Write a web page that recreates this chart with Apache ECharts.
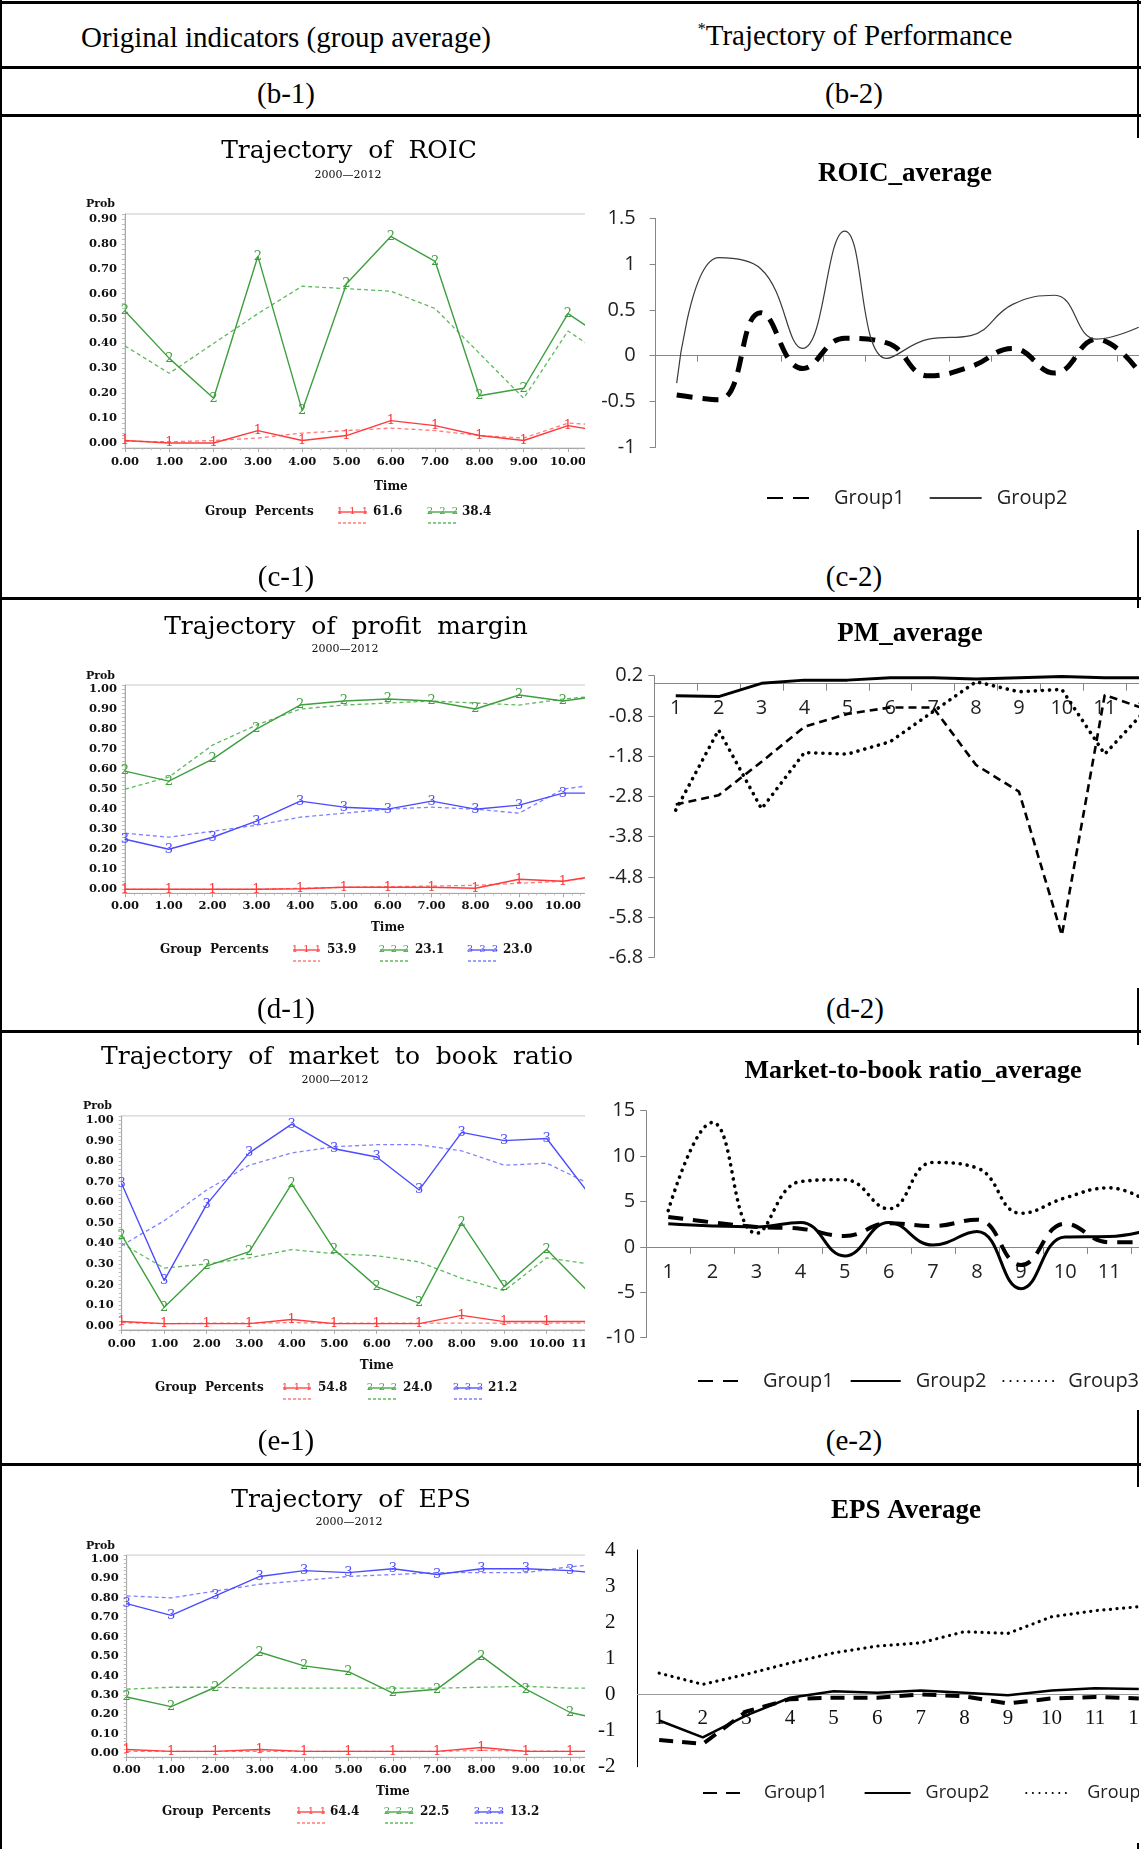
<!DOCTYPE html>
<html><head><meta charset="utf-8">
<script src="https://cdn.jsdelivr.net/npm/echarts@6/dist/echarts.min.js"></script>
<style>
html,body{margin:0;padding:0;background:#fff;}
body{width:1141px;height:1849px;position:relative;overflow:hidden;font-family:"Liberation Serif","Times New Roman",serif;}
.hl{position:absolute;left:0;width:1141px;height:3px;background:#000;z-index:10;}
.vl{position:absolute;width:2px;background:#000;top:0;height:1849px;}
.lbl{position:absolute;font-size:29px;line-height:32px;transform:translate(-50%,-50%);white-space:nowrap;color:#000;z-index:11;}
.box{position:absolute;overflow:hidden;}
.rbox{background:#fff;z-index:5;}
.chart{position:absolute;left:0;top:0;}
</style></head>
<body>
<div class="vl" style="left:1137px;z-index:1"></div>
<div class="vl" style="left:0;z-index:10"></div>
<div class="hl" style="top:1px"></div>
<div class="hl" style="top:66px"></div>
<div class="hl" style="top:114px"></div>
<div class="hl" style="top:597px"></div>
<div class="hl" style="top:1030px"></div>
<div class="hl" style="top:1463px"></div>

<div class="lbl" style="left:286px;top:37px">Original indicators (group average)</div>
<div class="lbl" style="left:855px;top:37px"><span style="font-size:16px;position:relative;top:-11px">*</span>Trajectory of Performance</div>
<div class="lbl" style="left:286px;top:93px">(b-1)</div>
<div class="lbl" style="left:854px;top:93px">(b-2)</div>
<div class="lbl" style="left:286px;top:576px">(c-1)</div>
<div class="lbl" style="left:854px;top:576px">(c-2)</div>
<div class="lbl" style="left:286px;top:1008px">(d-1)</div>
<div class="lbl" style="left:855px;top:1008px">(d-2)</div>
<div class="lbl" style="left:286px;top:1440px">(e-1)</div>
<div class="lbl" style="left:854px;top:1440px">(e-2)</div>

<div class="box" style="left:0;top:118px;width:585px;height:470px"><div id="L1" class="chart" style="width:700px;height:470px"></div></div>
<div class="box" style="left:0;top:602px;width:585px;height:425px"><div id="L2" class="chart" style="width:700px;height:425px"></div></div>
<div class="box" style="left:0;top:1034px;width:585px;height:427px"><div id="L3" class="chart" style="width:700px;height:427px"></div></div>
<div class="box" style="left:0;top:1467px;width:585px;height:382px"><div id="L4" class="chart" style="width:700px;height:382px"></div></div>

<div class="box rbox" style="left:588px;top:138px;width:551px;height:392px"><div id="R1" class="chart" style="width:600px;height:392px"></div></div>
<div class="box rbox" style="left:588px;top:608px;width:551px;height:380px"><div id="R2" class="chart" style="width:600px;height:380px"></div></div>
<div class="box rbox" style="left:588px;top:1045px;width:551px;height:365px"><div id="R3" class="chart" style="width:600px;height:365px"></div></div>
<div class="box rbox" style="left:588px;top:1487px;width:551px;height:356px"><div id="R4" class="chart" style="width:600px;height:356px"></div></div>

<script>
// ================= DATA =================
// SAS group-based trajectory plots, time 0..11 (only up to ~10.5 visible)
const sasTimes = [0,1,2,3,4,5,6,7,8,9,10,11];

const roicG1     = [0.01,0.00,0.00,0.05,0.01,0.03,0.09,0.07,0.03,0.01,0.07,0.04];
const roicG1Pred = [0.007,0.005,0.01,0.02,0.04,0.05,0.06,0.05,0.03,0.02,0.08,0.07];
const roicG2     = [0.53,0.34,0.18,0.75,0.13,0.64,0.83,0.73,0.19,0.22,0.52,0.40];
const roicG2Pred = [0.39,0.28,0.40,0.52,0.63,0.62,0.61,0.54,0.36,0.18,0.45,0.33];
const roicPct    = ['61.6','38.4'];

const pmG1     = [0,0,0,0,0.003,0.01,0.01,0.01,0.005,0.05,0.04,0.075];
const pmG1Pred = [0,0,0,0,0.005,0.01,0.013,0.016,0.02,0.03,0.04,0.07];
const pmG2     = [0.59,0.54,0.65,0.80,0.92,0.94,0.95,0.94,0.90,0.97,0.94,0.97];
const pmG2Pred = [0.50,0.56,0.72,0.82,0.90,0.92,0.93,0.94,0.93,0.92,0.95,0.97];
const pmG3     = [0.25,0.20,0.26,0.34,0.44,0.41,0.40,0.44,0.40,0.42,0.48,0.48];
const pmG3Pred = [0.28,0.26,0.29,0.32,0.36,0.38,0.40,0.41,0.40,0.38,0.50,0.53];
const pmPct    = ['53.9','23.1','23.0'];

const mtbG1     = [0.02,0.01,0.01,0.01,0.03,0.01,0.01,0.01,0.05,0.02,0.02,0.02];
const mtbG1Pred = [0.015,0.01,0.012,0.012,0.015,0.012,0.012,0.012,0.012,0.012,0.012,0.012];
const mtbG2     = [0.44,0.09,0.29,0.36,0.69,0.37,0.19,0.11,0.50,0.19,0.37,0.16];
const mtbG2Pred = [0.40,0.28,0.30,0.33,0.37,0.35,0.34,0.31,0.23,0.17,0.33,0.30];
const mtbG3     = [0.69,0.22,0.59,0.84,0.98,0.86,0.82,0.66,0.94,0.90,0.91,0.64];
const mtbG3Pred = [0.39,0.51,0.66,0.78,0.84,0.87,0.88,0.88,0.85,0.78,0.79,0.69];
const mtbPct    = ['54.8','24.0','21.2'];

const epsG1     = [0.02,0.01,0.01,0.02,0.01,0.01,0.01,0.01,0.03,0.01,0.01,0.01];
const epsG1Pred = [0.01,0.01,0.01,0.01,0.01,0.01,0.01,0.01,0.015,0.012,0.01,0.01];
const epsG2     = [0.29,0.24,0.34,0.52,0.45,0.42,0.31,0.33,0.50,0.33,0.21,0.16];
const epsG2Pred = [0.33,0.34,0.34,0.335,0.335,0.335,0.335,0.335,0.34,0.345,0.335,0.335];
const epsG3     = [0.77,0.71,0.81,0.91,0.94,0.93,0.95,0.92,0.95,0.95,0.94,0.92];
const epsG3Pred = [0.81,0.80,0.835,0.87,0.89,0.91,0.92,0.93,0.93,0.93,0.96,0.98];
const epsPct    = ['64.4','22.5','13.2'];

// Excel average charts, periods 1..12
const periods = ['1','2','3','4','5','6','7','8','9','10','11','12'];

const roicAvgG1 = [-0.43,-0.48,0.47,-0.14,0.19,0.14,-0.22,-0.12,0.08,-0.19,0.18,-0.17];
const roicAvgG2 = [-0.30,1.07,0.95,0.08,1.36,-0.03,0.18,0.22,0.56,0.66,0.18,0.31];

const pmAvgG1 = [-3.0,-2.77,-1.94,-1.07,-0.75,-0.59,-0.59,-2.02,-2.68,-6.25,-0.28,-0.65];
const pmAvgG2 = [-0.30,-0.32,0.01,0.09,0.09,0.15,0.15,0.12,0.15,0.18,0.15,0.15];
const pmAvgG3 = [-3.14,-1.15,-3.11,-1.71,-1.75,-1.44,-0.69,0.05,-0.20,-0.14,-1.75,-0.60];

const mtbAvgG1 = [3.3,2.7,2.2,2.0,1.2,2.6,2.3,3.0,-2.0,2.55,0.5,0.55];
const mtbAvgG2 = [2.55,2.3,2.2,2.7,-1.0,2.7,0.2,1.7,-4.6,1.1,1.15,2.0];
const mtbAvgG3 = [4.0,13.7,1.5,7.2,7.4,4.2,9.3,8.7,3.7,5.4,6.5,4.6];

const epsAvgG1 = [-1.26,-1.37,-0.47,-0.13,-0.09,-0.09,0.0,-0.05,-0.25,-0.11,-0.07,-0.11];
const epsAvgG2 = [-0.72,-1.19,-0.58,-0.09,0.09,0.05,0.11,0.05,-0.02,0.11,0.17,0.15];
const epsAvgG3 = [0.59,0.28,0.56,0.87,1.15,1.34,1.43,1.74,1.69,2.15,2.32,2.43];

// ================= STYLES =================
const SERIF_SAS = '"DejaVu Serif"';
const C = {
  red:'#ff3a3a', redD:'#ff7b7b',
  green:'#3f9f3f', greenD:'#5fb95f',
  blue:'#4b4bff', blueD:'#8080ff'
};

function T(x, y, text, font, align, fill) {
  return {type:'text', x:x, y:y, silent:true, z:50,
    style:{text:text, font:font, fill:fill||'#111',
      textAlign:align||'center', textVerticalAlign:'middle', align:align||'center', verticalAlign:'middle'}};
}

function sasChart(id, L, groups, pcts) {
  const el = document.getElementById(id);
  const chart = echarts.init(el, null, {width:el.offsetWidth, height:el.offsetHeight});
  const gfx = [];
  gfx.push(T(L.titleX, L.titleY, L.title, '25px ' + SERIF_SAS, 'center', '#000'));
  gfx.push(T(L.subX, L.subY, '2000\u20142012', '11px ' + SERIF_SAS));
  gfx.push(T(L.probX, L.probY, 'Prob', 'bold 11px ' + SERIF_SAS, 'right'));
  gfx.push(T(L.groupX, L.legendY, 'Group  Percents', 'bold 12px ' + SERIF_SAS, 'left'));
  groups.forEach(function(g, i) {
    const it = L.items[i];
    gfx.push({type:'line', silent:true, shape:{x1:it[0], y1:L.legendY, x2:it[1], y2:L.legendY},
      style:{stroke:g.color, lineWidth:1.3}});
    [it[0] + 2, (it[0] + it[1]) / 2, it[1] - 2].forEach(function(mx) {
      gfx.push(T(mx, L.legendY - 1, g.mark, '10px ' + SERIF_SAS, 'center', g.color));
    });
    gfx.push(T(it[2], L.legendY, pcts[i], 'bold 12px ' + SERIF_SAS, 'left'));
    gfx.push({type:'line', silent:true, shape:{x1:it[0], y1:L.legendY + 11, x2:it[1], y2:L.legendY + 11},
      style:{stroke:g.dcolor, lineWidth:1.3, lineDash:[3,2]}});
  });

  const series = [];
  groups.forEach(function(g) {
    series.push({type:'line', name:'pred' + g.mark,
      data: sasTimes.map(function(t, i){ return [t, g.pred[i]]; }),
      symbol:'none', lineStyle:{color:g.dcolor, width:1.3, type:[4,3]}, z:2, silent:true});
  });
  groups.forEach(function(g) {
    series.push({type:'line', name:'group' + g.mark,
      data: sasTimes.map(function(t, i){ return [t, g.data[i]]; }),
      symbol:'circle', symbolSize:1, showSymbol:true, showAllSymbol:true,
      itemStyle:{color:g.color}, lineStyle:{color:g.color, width:1.4}, z:3, silent:true,
      label:{show:true, position:'inside', formatter:g.mark, color:g.color,
        fontSize:13, fontFamily:SERIF_SAS}});
  });

  const tenth = function(v) {
    const r = Math.round(v * 10);
    return (Math.abs(v * 10 - r) < 1e-6 && r >= 0) ? (r / 10).toFixed(2) : '';
  };

  chart.setOption({
    animation:false,
    grid:{left:L.gridLeft, top:L.gridTop, width:L.unit * 12, height:L.gridH,
      show:true, borderColor:'#c8c8c8', borderWidth:1, outerBoundsMode:'none'},
    xAxis:{type:'value', min:0, max:12, interval:1,
      name:'Time', nameLocation:'middle', nameGap:L.nameGap,
      nameTextStyle:{fontFamily:SERIF_SAS, fontWeight:'bold', fontSize:12, color:'#111'},
      axisLine:{onZero:false, lineStyle:{color:'#a8a8a8'}},
      axisTick:{show:true, length:4, lineStyle:{color:'#a8a8a8'}},
      minorTick:{show:true, splitNumber:5, length:2, lineStyle:{color:'#bbbbbb'}},
      splitLine:{show:false},
      axisLabel:{formatter:function(v){ return v.toFixed(2); }, fontFamily:SERIF_SAS,
        fontWeight:'bold', fontSize:11.5, color:'#111', margin:L.xMargin}},
    yAxis:{type:'value', min:-0.02, max:L.ymax, interval:0.02,
      axisLine:{show:true, onZero:false, lineStyle:{color:'#a8a8a8'}},
      axisTick:{show:true, length:3, lineStyle:{color:'#bbbbbb'}},
      splitLine:{show:false},
      axisLabel:{formatter:tenth, fontFamily:SERIF_SAS, fontWeight:'bold', fontSize:11.5,
        color:'#111', margin:8}},
    graphic:{elements:gfx},
    series:series
  });
}

sasChart('L1', {
  title:'Trajectory  of  ROIC', titleX:349, titleY:33, subX:348, subY:57, probX:115, probY:86,
  gridLeft:125, unit:44.3, gridTop:96, gridH:234, ymax:0.92, xMargin:8, nameGap:33,
  legendY:394, groupX:205, items:[[338,367,373],[428,457,462]]
}, [
  {data:roicG1, pred:roicG1Pred, color:C.red, dcolor:C.redD, mark:'1'},
  {data:roicG2, pred:roicG2Pred, color:C.green, dcolor:C.greenD, mark:'2'}
], roicPct);

sasChart('L2', {
  title:'Trajectory  of  profit  margin', titleX:346, titleY:25, subX:345, subY:47, probX:115, probY:74,
  gridLeft:125, unit:43.8, gridTop:83, gridH:208.3, ymax:1.02, xMargin:7, nameGap:29,
  legendY:348, groupX:160, items:[[293,320,327],[380,408,415],[468,497,503]]
}, [
  {data:pmG1, pred:pmG1Pred, color:C.red, dcolor:C.redD, mark:'1'},
  {data:pmG2, pred:pmG2Pred, color:C.green, dcolor:C.greenD, mark:'2'},
  {data:pmG3, pred:pmG3Pred, color:C.blue, dcolor:C.blueD, mark:'3'}
], pmPct);

sasChart('L3', {
  title:'Trajectory  of  market  to  book  ratio', titleX:337, titleY:23, subX:335, subY:46, probX:112, probY:72,
  gridLeft:121.7, unit:42.5, gridTop:81.9, gridH:213.9, ymax:1.02, xMargin:8, nameGap:30,
  legendY:354, groupX:155, items:[[283,311,318],[368,396,403],[454,482,488]]
}, [
  {data:mtbG1, pred:mtbG1Pred, color:C.red, dcolor:C.redD, mark:'1'},
  {data:mtbG2, pred:mtbG2Pred, color:C.green, dcolor:C.greenD, mark:'2'},
  {data:mtbG3, pred:mtbG3Pred, color:C.blue, dcolor:C.blueD, mark:'3'}
], mtbPct);

sasChart('L4', {
  title:'Trajectory  of  EPS', titleX:351, titleY:33, subX:349, subY:55, probX:115, probY:79,
  gridLeft:126.7, unit:44.35, gridTop:88.1, gridH:202.1, ymax:1.02, xMargin:7, nameGap:28.5,
  legendY:345, groupX:162, items:[[297,325,330],[385,413,420],[475,503,510]]
}, [
  {data:epsG1, pred:epsG1Pred, color:C.red, dcolor:C.redD, mark:'1'},
  {data:epsG2, pred:epsG2Pred, color:C.green, dcolor:C.greenD, mark:'2'},
  {data:epsG3, pred:epsG3Pred, color:C.blue, dcolor:C.blueD, mark:'3'}
], epsPct);

// ================= EXCEL-STYLE AVERAGE CHARTS =================
const SANS = '"Open Sans"';
const SERIF = '"Liberation Serif"';

function initR(id) {
  const el = document.getElementById(id);
  return echarts.init(el, null, {width:el.offsetWidth, height:el.offsetHeight});
}
function titleG(x, y, text, size) {
  return {elements:[T(x, y, text, 'bold ' + size + 'px ' + SERIF, 'center', '#000')]};
}
const gray = '#868686';
function legendCfg(left, top, w, gap, size) {
  return {left:left, top:top, itemWidth:w, itemHeight:14, itemGap:gap,
    itemStyle:{opacity:0}, selectedMode:false,
    textStyle:{fontFamily:SANS, fontSize:size, color:'#222', padding:[0,0,0,10]}};
}
// category x axis drawn at value 0 via offset (zeroOffset = distance from grid bottom up to 0)
function catAxis(zeroOffset, labelOpts, tickLen, lineColor) {
  return {type:'category', data:periods, boundaryGap:true, offset:-zeroOffset,
    axisLine:{onZero:false, lineStyle:{color:lineColor}},
    axisTick:{show:tickLen > 0, length:tickLen, lineStyle:{color:lineColor}},
    axisLabel:labelOpts, splitLine:{show:false}};
}

// ROIC average: y -1..1.5, plot 229px tall
initR('R1').setOption({
  animation:false,
  graphic:titleG(317, 36, 'ROIC_average', 27),
  grid:{left:67.7, top:80.3, width:504, height:229, outerBoundsMode:'none'},
  legend:legendCfg(173, 345, 52, 24, 20),
  xAxis:catAxis(229 * 1 / 2.5, {show:false}, 6, gray),
  yAxis:{type:'value', min:-1, max:1.5, interval:0.5,
    axisLine:{show:true, lineStyle:{color:gray}}, axisTick:{show:true, length:6, lineStyle:{color:gray}},
    splitLine:{show:false},
    axisLabel:{fontFamily:SANS, fontSize:20, color:'#222', margin:20}},
  series:[
    {type:'line', name:'Group1', data:roicAvgG1, smooth:0.45, symbol:'none',
      lineStyle:{color:'#000', width:5, type:[16,10]}, itemStyle:{color:'#000'}},
    {type:'line', name:'Group2', data:roicAvgG2, smooth:0.45, symbol:'none',
      lineStyle:{color:'#3a3a3a', width:1.2}, itemStyle:{color:'#3a3a3a'}}
  ]
});

// PM average: y -6.8..0.2, plot 281.6px tall
initR('R2').setOption({
  animation:false,
  graphic:titleG(322, 26, 'PM_average', 27),
  grid:{left:66.3, top:67.7, width:514.8, height:281.6, outerBoundsMode:'none'},
  xAxis:catAxis(281.6 * 6.8 / 7,
    {interval:0, fontFamily:SANS, fontSize:20, color:'#222', margin:15}, 7, gray),
  yAxis:{type:'value', min:-6.8, max:0.2, interval:1,
    axisLine:{show:true, lineStyle:{color:gray}}, axisTick:{show:true, length:6, lineStyle:{color:gray}},
    splitLine:{show:false},
    axisLabel:{formatter:function(v){ return v.toFixed(1); }, fontFamily:SANS, fontSize:20, color:'#222', margin:11}},
  series:[
    {type:'line', name:'Group1', data:pmAvgG1, symbol:'none',
      lineStyle:{color:'#000', width:2.6, type:[8,5]}},
    {type:'line', name:'Group2', data:pmAvgG2, symbol:'none',
      lineStyle:{color:'#000', width:3}},
    {type:'line', name:'Group3', data:pmAvgG3, symbol:'none',
      lineStyle:{color:'#000', width:3.6, type:[0.1,7], cap:'round'}}
  ]
});

// Market-to-book average: y -10..15, plot 227px tall
initR('R3').setOption({
  animation:false,
  graphic:titleG(325, 26, 'Market-to-book ratio_average', 26),
  grid:{left:58.2, top:65.7, width:529.2, height:227, outerBoundsMode:'none'},
  legend:legendCfg(104, 321, 50, 16, 20),
  xAxis:catAxis(227 * 10 / 25,
    {interval:0, fontFamily:SANS, fontSize:20, color:'#222', margin:15}, 7, gray),
  yAxis:{type:'value', min:-10, max:15, interval:5,
    axisLine:{show:true, lineStyle:{color:gray}}, axisTick:{show:true, length:6, lineStyle:{color:gray}},
    splitLine:{show:false},
    axisLabel:{fontFamily:SANS, fontSize:20, color:'#222', margin:11}},
  series:[
    {type:'line', name:'Group1', data:mtbAvgG1, smooth:0.45, symbol:'none',
      lineStyle:{color:'#000', width:4, type:[15,10]}, itemStyle:{color:'#000'}},
    {type:'line', name:'Group2', data:mtbAvgG2, smooth:0.45, symbol:'none',
      lineStyle:{color:'#000', width:3}, itemStyle:{color:'#000'}},
    {type:'line', name:'Group3', data:mtbAvgG3, smooth:0.45, symbol:'none',
      lineStyle:{color:'#000', width:3.6, type:[0.1,7], cap:'round'}, itemStyle:{color:'#000'}}
  ]
});

// EPS average: y -2..4, plot 216.7px tall
initR('R4').setOption({
  animation:false,
  graphic:titleG(318, 24, 'EPS Average', 27),
  grid:{left:49.4, top:63, width:523.2, height:216.7, outerBoundsMode:'none'},
  legend:legendCfg(109, 292, 46, 36, 18),
  xAxis:catAxis(216.7 * 2 / 6,
    {interval:0, fontFamily:SERIF, fontSize:21, color:'#111', margin:14}, 0, '#999'),
  yAxis:{type:'value', min:-2, max:4, interval:1,
    axisLine:{show:true, lineStyle:{color:'#000'}}, axisTick:{show:false},
    splitLine:{show:false},
    axisLabel:{fontFamily:SERIF, fontSize:21, color:'#111', margin:22}},
  series:[
    {type:'line', name:'Group1', data:epsAvgG1, symbol:'none',
      lineStyle:{color:'#000', width:4, type:[14,9]}, itemStyle:{color:'#000'}},
    {type:'line', name:'Group2', data:epsAvgG2, symbol:'none',
      lineStyle:{color:'#000', width:2.5}, itemStyle:{color:'#000'}},
    {type:'line', name:'Group3', data:epsAvgG3, symbol:'none',
      lineStyle:{color:'#000', width:3.2, type:[0.1,6.5], cap:'round'}, itemStyle:{color:'#000'}}
  ]
});
</script>
</body></html>
